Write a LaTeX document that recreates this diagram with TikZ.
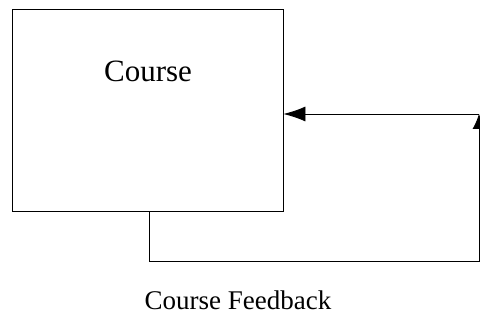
\documentclass[tikz,border=0pt]{standalone}
\usepackage{fontspec}
\setmainfont{Liberation Serif}
\usetikzlibrary{arrows.meta}

\tikzset{
  coursebox/.style={draw, line width=0.8pt, minimum width=271pt, minimum height=202pt, inner sep=0pt},
  label text/.style={font=\fontsize{31}{36}\selectfont},
  feedback/.style={line width=0.8pt},
}

\begin{document}
\begin{tikzpicture}[x=1pt,y=-1pt]
    \useasboundingbox (0,0) rectangle (480,323);
    \node[coursebox] (course) at (147.5,110) {};
    \node[label text] (coursetext) at (148,71) {Course};
    \node[label text,font=\fontsize{27}{32}\selectfont] (fbtext) at (238,300) {Course Feedback};
    \coordinate (fb1) at (149,261);
    \coordinate (fb2) at (479,261);
    \coordinate (fb3) at (479,114);
    \draw[feedback,-{Latex[length=15pt,width=13pt]}] (course.south -| fb1) -- (fb1) -- (fb2) -- (fb3);
    \draw[feedback,-{Latex[length=22pt,width=15pt]}] (fb3) -- (course.east |- fb3);
\end{tikzpicture}
\end{document}
